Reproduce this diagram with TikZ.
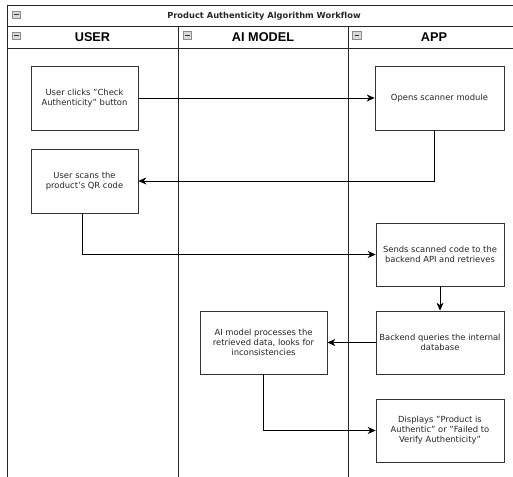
\documentclass[tikz,border=0pt]{standalone}
\usepackage{fontspec}
\setmainfont[Ligatures=NoCommon]{DejaVu Sans}
\newfontfamily\hdrfont{Liberation Sans}
\usetikzlibrary{arrows.meta,calc}
\definecolor{boxline}{HTML}{333333}
\definecolor{icofill}{HTML}{D9D9D9}
\definecolor{icoline}{HTML}{8C8C8C}
\newcommand{\dq}{\symbol{34}}
\newcommand{\sq}{\symbol{39}}
\tikzset{
  stepbox/.style={draw=boxline, line width=0.7pt, fill=white, inner sep=2pt,
    align=center, font=\fontsize{8.4}{10}\selectfont, text=black!85},
  lane/.style={draw=black!85, line width=0.9pt},
  flow/.style={draw=black, line width=0.8pt, -{Stealth[length=8pt,width=7pt]}},
  icon/.style={draw=icoline, fill=icofill, line width=0.5pt},
}
\newcommand{\minusicon}[2]{%
  \draw[icon] (#1,#2) rectangle ++(8.5,7.5);
  \draw[black!80, line width=1pt] ($(#1,#2)+(2,3.75)$) -- ++(4.5,0);
}
\begin{document}
\begin{tikzpicture}[x=1pt,y=-1pt]
\useasboundingbox (0,0) rectangle (513,476);
\begin{scope}
\clip (0,0) rectangle (513,476);
% frame
\draw[lane] (7,490) -- (7,5) -- (525,5);
\draw[lane] (7,26) -- (525,26);
\draw[lane] (7,48) -- (525,48);
\draw[lane] (178,26) -- (178,490);
\draw[lane] (348,26) -- (348,490);
\node[font=\fontsize{8.3}{9}\selectfont\bfseries, text=black!85] (title) at (264,16) {Product Authenticity Algorithm Workflow};
\node[font=\hdrfont\fontsize{12.7}{14}\selectfont\bfseries] (huser) at (92.5,37.5) {USER};
\node[font=\hdrfont\fontsize{12.7}{14}\selectfont\bfseries] (hai) at (263,37.5) {AI MODEL};
\node[font=\hdrfont\fontsize{12.7}{14}\selectfont\bfseries] (happ) at (434,37.5) {APP};
\minusicon{12}{11}
\minusicon{12}{32}
\minusicon{183}{31.5}
\minusicon{352.5}{31.5}
\end{scope}
% boxes
\node[stepbox, minimum width=107pt, minimum height=64pt] (click) at (84.5,98) {User clicks \dq Check\\Authenticity\dq{} button};
\node[stepbox, minimum width=107pt, minimum height=64pt] (scan) at (84.5,181) {User scans the\\product\sq s QR code};
\node[stepbox, minimum width=129pt, minimum height=64pt] (open) at (439.5,98) {Opens scanner module};
\node[stepbox, minimum width=128pt, minimum height=63pt] (send) at (440,254.5) {Sends scanned code to the\\backend API and retrieves};
\node[stepbox, minimum width=128pt, minimum height=63pt, inner sep=0.5pt] (query) at (440,342.5) {Backend queries the internal\\database};
\node[stepbox, minimum width=127pt, minimum height=63pt] (ai) at (263.5,342.5) {AI model processes the\\retrieved data, looks for\\inconsistencies};
\node[stepbox, minimum width=128pt, minimum height=63pt] (disp) at (440,430.5) {Displays \dq Product is\\Authentic\dq{} or \dq Failed to\\Verify Authenticity\dq};
% connectors
\draw[flow] (click.east) -- (open.west);
\draw[flow] (open.south -| 434,0) |- (scan.east);
\draw[flow] (scan.south -| 82,0) |- (send.west);
\draw[flow] (send.south) -- (query.north);
\draw[flow] (query.west) -- (ai.east);
\draw[flow] (ai.south) |- (disp.west);
\end{tikzpicture}
\end{document}
